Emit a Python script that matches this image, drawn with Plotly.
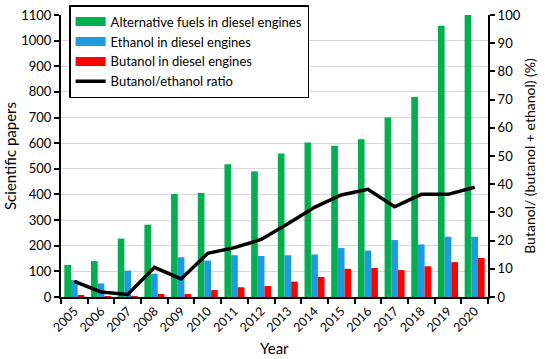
import plotly.graph_objects as go

years = [str(y) for y in range(2005, 2021)]
alt_fuels = [125, 140, 228, 282, 402, 406, 518, 490, 560, 603, 590, 615, 700, 780, 1058, 1100]
ethanol = [66, 53, 103, 91, 155, 142, 163, 160, 163, 166, 191, 181, 222, 205, 235, 235]
butanol = [5, 2, 3, 12, 12, 27, 38, 43, 60, 78, 110, 113, 105, 120, 136, 152]
ratio = [5.5, 1.8, 0.9, 10.5, 6.4, 15.5, 17.5, 20.4, 26.0, 31.8, 36.2, 38.2, 32.0, 36.4, 36.4, 38.9]

series_names = ["Alternative fuels in diesel engines", "Ethanol in diesel engines",
                "Butanol in diesel engines"]
series_colors = ["#00B050", "#1E9BDC", "#FF0000"]
series_values = [alt_fuels, ethanol, butanol]

FONT = "Lato"

fig = go.Figure()
for name, color, vals in zip(series_names, series_colors, series_values):
    fig.add_trace(go.Bar(x=years, y=vals, name=name, showlegend=False,
                         marker=dict(color=color, line=dict(width=0))))
fig.add_trace(go.Scatter(x=years, y=ratio, name="Butanol/ethanol ratio", yaxis="y2",
                         mode="lines", line=dict(color="black", width=3.5), showlegend=False))

# legend entries (wide swatches like the original)
for name, color in zip(series_names, series_colors):
    fig.add_trace(go.Scatter(x=[None], y=[None], name=name, mode="lines",
                             line=dict(color=color, width=9)))
fig.add_trace(go.Scatter(x=[None], y=[None], name="Butanol/ethanol ratio", mode="lines",
                         line=dict(color="black", width=3.5)))

fig.update_layout(
    width=550, height=359,
    margin=dict(l=61, r=62, t=15, b=62, autoexpand=False),
    plot_bgcolor="white", paper_bgcolor="white",
    barmode="group", bargap=0.25, bargroupgap=0,
    font=dict(family=FONT, size=13, color="black"),
    showlegend=True,
    legend=dict(x=0.019, y=1.035, xanchor="left", yanchor="top",
                bgcolor="white", bordercolor="black", borderwidth=1.5,
                font=dict(family=FONT, size=13, color="black"),
                itemwidth=30, tracegroupgap=0),
    xaxis=dict(type="category", tickson="boundaries", ticks="outside", ticklen=5,
               tickwidth=1.5, tickcolor="black", showline=True, linecolor="black",
               linewidth=2, tickangle=-45, tickfont=dict(size=12.5)),
    yaxis=dict(range=[0, 1100], dtick=100, showgrid=True, gridcolor="#D9D9D9",
               gridwidth=1, ticks="outside", ticklen=5, tickwidth=1.5, tickcolor="black",
               showline=True, linecolor="black", linewidth=2, zeroline=False,
               tickfont=dict(size=13), ticklabeloverflow="allow",
               title=dict(text="Scientific papers", font=dict(size=15), standoff=1)),
    yaxis2=dict(range=[0, 100], dtick=10, overlaying="y", side="right", showgrid=False,
                ticks="outside", ticklen=5, tickwidth=1.5, tickcolor="black",
                showline=True, linecolor="black", linewidth=2, zeroline=False,
                tickfont=dict(size=13), ticklabeloverflow="allow",
                title=dict(text="Butanol/ (butanol + ethanol) (%)", font=dict(size=14), standoff=6)),
    annotations=[dict(text="Year", xref="paper", yref="paper", x=0.5, y=-0.181,
                      xanchor="center", yanchor="middle", showarrow=False,
                      font=dict(size=15))],
)

fig.write_html("out.html", config={"displayModeBar": False},
               post_script="document.body.style.margin='0';")
